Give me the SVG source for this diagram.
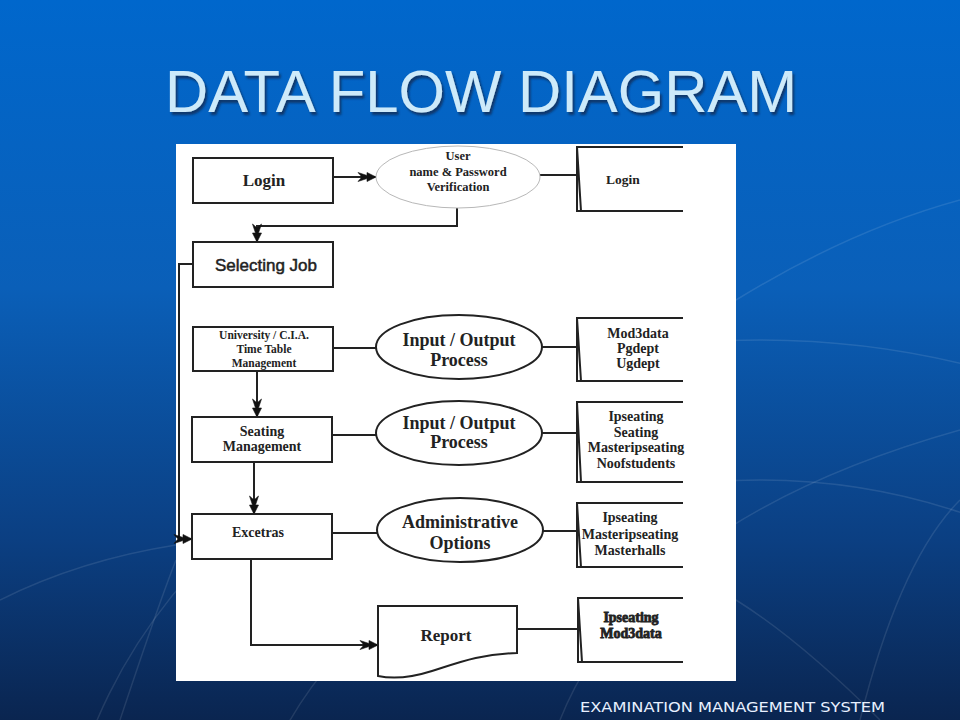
<svg xmlns="http://www.w3.org/2000/svg" width="960" height="720" viewBox="0 0 960 720">
<defs>
<linearGradient id="bg" x1="0" y1="0" x2="0" y2="1">
<stop offset="0" stop-color="#0067cc"/>
<stop offset="0.4" stop-color="#0a5fb8"/>
<stop offset="0.75" stop-color="#0b3f82"/>
<stop offset="1" stop-color="#0a2550"/>
</linearGradient>
<filter id="shadow" x="-5%" y="-20%" width="110%" height="140%">
<feDropShadow dx="2" dy="3" stdDeviation="1" flood-color="#0a2a50" flood-opacity="0.75"/>
</filter>
<marker id="arr" markerUnits="userSpaceOnUse" markerWidth="22" markerHeight="14" viewBox="-19 -7 22 14" refX="0" refY="0" orient="auto">
<path d="M-18,-4.5 L-9,-1.5 L-9,-4.5 L0,0 L-9,4.5 L-9,1.5 L-18,4.5 L-14,0 Z" fill="#111" stroke="#111" stroke-width="0.6" stroke-linejoin="round"/>
</marker>
<style>
.box{fill:#fff;stroke:#222;stroke-width:2}
.ln{fill:none;stroke:#222;stroke-width:2}
.st{fill:none;stroke:#222;stroke-width:2}
.ell{fill:#fff;stroke:#222;stroke-width:2}
.serif{font-family:"Liberation Serif","Times New Roman",serif;font-weight:bold;fill:#222;text-anchor:middle}
.sans{font-family:"Liberation Sans",Arial,sans-serif;fill:#222;text-anchor:middle}
.grid{fill:none;stroke:#ffffff;stroke-opacity:0.1;stroke-width:1.5}
</style>
</defs>
<rect width="960" height="720" fill="url(#bg)"/>
<g id="background-grid">
<ellipse class="grid" cx="760" cy="900" rx="700" ry="560"/>
<ellipse class="grid" cx="760" cy="900" rx="520" ry="420"/>
<path class="grid" d="M560,720 Q640,520 960,430"/>
<path class="grid" d="M860,720 Q900,560 960,500"/>
<path class="grid" d="M120,720 Q160,600 176,560"/>
<path class="grid" d="M0,600 Q80,560 176,545"/>
<path class="grid" d="M736,300 Q850,230 960,200"/>
<path class="grid" d="M736,600 Q800,640 880,720"/>
</g>
<g id="title">
<text x="481" y="112" font-family="'Liberation Sans',Arial,sans-serif" font-size="60" text-anchor="middle" fill="#cdeafa" filter="url(#shadow)" textLength="632" lengthAdjust="spacingAndGlyphs">DATA FLOW DIAGRAM</text>
</g>
<rect id="panel" x="176" y="144" width="560" height="537" fill="#fff"/>
<g id="connectors">
<line class="ln" x1="333" y1="177" x2="376" y2="177" marker-end="url(#arr)"/>
<line class="ln" x1="540" y1="175" x2="577" y2="175"/>
<polyline class="ln" points="457,208 457,226 257,226 257,242" marker-end="url(#arr)"/>
<polyline class="ln" points="193,264 179,264 179,539 192,539" marker-end="url(#arr)"/>
<line class="ln" x1="333" y1="348" x2="377" y2="348"/>
<line class="ln" x1="542" y1="347" x2="577" y2="347"/>
<line class="ln" x1="257" y1="371" x2="257" y2="417" marker-end="url(#arr)"/>
<line class="ln" x1="332" y1="435" x2="377" y2="435"/>
<line class="ln" x1="542" y1="433" x2="577" y2="433"/>
<line class="ln" x1="254" y1="462" x2="254" y2="514" marker-end="url(#arr)"/>
<line class="ln" x1="332" y1="533" x2="377" y2="533"/>
<line class="ln" x1="543" y1="531" x2="577" y2="531"/>
<polyline class="ln" points="251,559 251,645 378,645" marker-end="url(#arr)"/>
<line class="ln" x1="517" y1="629" x2="578" y2="629"/>
</g>
<g id="login">
<rect class="box" x="193" y="158" width="140" height="45"/>
<text class="serif" x="264" y="186" font-size="17">Login</text>
</g>
<g id="verification">
<ellipse cx="458" cy="177" rx="82" ry="31" fill="#fff" stroke="#b8b8b8" stroke-width="1"/>
<text class="serif" font-size="12.5"><tspan x="458" y="160">User</tspan><tspan x="458" y="176">name &amp; Password</tspan><tspan x="458" y="191">Verification</tspan></text>
</g>
<g id="store-login">
<path class="st" d="M683,147 H577 V211 H683 M577,147 L581,211"/>
<text class="serif" x="623" y="184" font-size="13.5">Login</text>
</g>
<g id="selecting-job">
<rect class="box" x="193" y="242" width="140" height="45"/>
<text class="sans" x="266" y="271" font-size="17" stroke="#222" stroke-width="0.5">Selecting Job</text>
</g>
<g id="timetable">
<rect class="box" x="193" y="327" width="140" height="44"/>
<text class="serif" font-size="11.5"><tspan x="264" y="339">University / C.I.A.</tspan><tspan x="264" y="353">Time Table</tspan><tspan x="264" y="367">Management</tspan></text>
</g>
<g id="io-process-1">
<ellipse class="ell" cx="459" cy="347" rx="83" ry="32"/>
<text class="serif" font-size="18"><tspan x="459" y="346">Input / Output</tspan><tspan x="459" y="366">Process</tspan></text>
</g>
<g id="store-1">
<path class="st" d="M683,318 H577 V381 H683 M577,318 L581,381"/>
<text class="serif" font-size="14"><tspan x="638" y="338">Mod3data</tspan><tspan x="638" y="353">Pgdept</tspan><tspan x="638" y="368">Ugdept</tspan></text>
</g>
<g id="seating">
<rect class="box" x="192" y="417" width="140" height="45"/>
<text class="serif" font-size="14"><tspan x="262" y="436">Seating</tspan><tspan x="262" y="451">Management</tspan></text>
</g>
<g id="io-process-2">
<ellipse class="ell" cx="459" cy="433" rx="83" ry="32"/>
<text class="serif" font-size="18"><tspan x="459" y="429">Input / Output</tspan><tspan x="459" y="448">Process</tspan></text>
</g>
<g id="store-2">
<path class="st" d="M683,402 H577 V482 H683 M577,402 L581,482"/>
<text class="serif" font-size="14"><tspan x="636" y="421">Ipseating</tspan><tspan x="636" y="437">Seating</tspan><tspan x="636" y="452">Masteripseating</tspan><tspan x="636" y="468">Noofstudents</tspan></text>
</g>
<g id="excetras">
<rect class="box" x="192" y="514" width="140" height="45"/>
<text class="serif" x="258" y="537" font-size="14">Excetras</text>
</g>
<g id="admin-options">
<ellipse class="ell" cx="460" cy="530" rx="83" ry="32"/>
<text class="serif" font-size="18"><tspan x="460" y="528">Administrative</tspan><tspan x="460" y="549">Options</tspan></text>
</g>
<g id="store-3">
<path class="st" d="M683,503 H577 V567 H683 M577,503 L581,567"/>
<text class="serif" font-size="14"><tspan x="630" y="522">Ipseating</tspan><tspan x="630" y="539">Masteripseating</tspan><tspan x="630" y="555">Masterhalls</tspan></text>
</g>
<g id="report">
<path class="box" d="M378,606 H517 V653 C480,654 460,662 432,671 C410,678 392,679 378,676 Z"/>
<text class="serif" x="446" y="641" font-size="17">Report</text>
</g>
<g id="store-4">
<path class="st" d="M683,598 H578 V662 H683 M578,598 L582,662"/>
<text class="serif" font-size="14" stroke="#222" stroke-width="0.8"><tspan x="631" y="622">Ipseating</tspan><tspan x="631" y="638">Mod3data</tspan></text>
</g>
<g id="footer">
<text x="580" y="712" font-family="'DejaVu Sans',Verdana,sans-serif" font-size="14" fill="#e8f0ff" textLength="305" lengthAdjust="spacingAndGlyphs">EXAMINATION MANAGEMENT SYSTEM</text>
</g>
</svg>
